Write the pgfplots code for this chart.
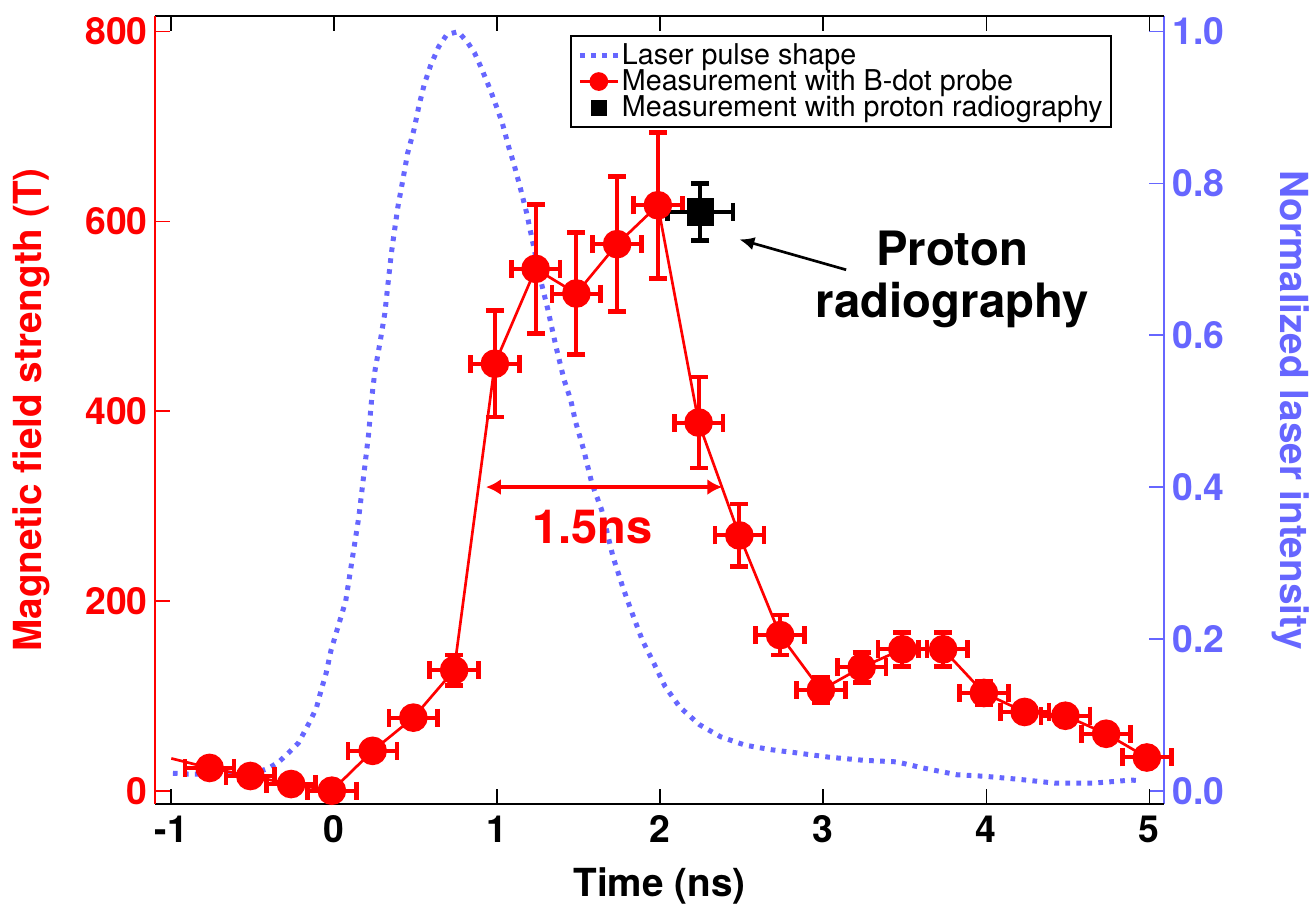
\documentclass[border=0pt]{standalone}
\usepackage{fontspec}
\setmainfont{TeX Gyre Heros}
\usepackage{pgfplots}
\usepackage{pgfplotstable}
\pgfplotsset{compat=1.18}
\usetikzlibrary{arrows.meta}
\definecolor{lblue}{rgb}{0.4,0.4,1}

\pgfplotstableread{
x y ex ey
-0.765 24 0.15 6
-0.515 15.5 0.15 6
-0.265 7 0.15 6
-0.015 0 0.15 6
0.235 42 0.15 8
0.485 77 0.15 8
0.735 127 0.15 16
0.985 450 0.15 56
1.235 550 0.15 68
1.485 524 0.15 64
1.735 576 0.15 71
1.985 617 0.15 77
2.235 388 0.15 48
2.485 269 0.15 33
2.735 164 0.15 21
2.985 106 0.15 13
3.235 130 0.15 16
3.485 149 0.15 18
3.735 149 0.15 18
3.985 103 0.15 12
4.235 83 0.15 8
4.485 79 0.15 8
4.735 60 0.15 8
4.985 35 0.15 6
}\bdot

\pgfplotstableread{
x y
-0.99 0.023
-0.90 0.022
-0.75 0.022
-0.57 0.023
-0.45 0.026
-0.40 0.030
-0.34 0.038
-0.28 0.050
-0.22 0.063
-0.15 0.091
-0.11 0.109
-0.08 0.133
-0.05 0.155
-0.02 0.185
0.07 0.25
0.15 0.36
0.21 0.469
0.23 0.518
0.25 0.554
0.28 0.590
0.31 0.629
0.33 0.669
0.35 0.708
0.37 0.739
0.39 0.769
0.42 0.804
0.45 0.840
0.49 0.872
0.52 0.903
0.55 0.929
0.59 0.955
0.64 0.980
0.69 0.996
0.76 1.000
0.82 0.985
0.86 0.972
0.90 0.953
0.95 0.927
0.98 0.910
1.03 0.880
1.07 0.848
1.10 0.827
1.14 0.795
1.18 0.761
1.21 0.730
1.27 0.669
1.31 0.634
1.36 0.585
1.41 0.541
1.45 0.515
1.48 0.486
1.53 0.449
1.58 0.405
1.64 0.370
1.71 0.308
1.77 0.268
1.82 0.238
1.89 0.198
1.96 0.168
2.03 0.137
2.12 0.110
2.24 0.087
2.37 0.071
2.52 0.060
2.68 0.054
2.83 0.050
3.04 0.044
3.25 0.040
3.45 0.038
3.61 0.030
3.82 0.021
3.99 0.019
4.20 0.015
4.42 0.010
4.66 0.010
4.89 0.014
4.95 0.013
}\laser

\begin{document}
\begin{tikzpicture}
\pgfplotsset{
  common/.style={scale only axis, width=302.7pt, height=236.4pt,
    xmin=-1.1, xmax=5.09, at={(0,0)}, anchor=south west, clip=false,
    major tick length=4.5pt, tick align=inside,
    /pgf/number format/assume math mode=true,
    ticklabel style={font=\fontsize{11.2}{13}\selectfont\bfseries},
    label style={font=\fontsize{11.6}{13}\selectfont\bfseries},
    every tick/.style={line width=0.5pt}}
}
% right axis (laser)
\begin{axis}[common, axis y line*=right, axis x line=none,
  ymin=-0.0175, ymax=1.0206, ytick={0,0.2,0.4,0.6,0.8,1},
  yticklabel style={/pgf/number format/fixed, /pgf/number format/fixed zerofill,
    /pgf/number format/precision=1, color=lblue, xshift=-1pt},
  y axis line style={lblue, line width=0.5pt}, ytick style={lblue},
  ylabel={Normalized laser intensity},
  ylabel style={color=lblue, rotate=180, at={(axis description cs:1.115,0.5)}, anchor=base}]
\addplot[lblue, line width=1.5pt, dash pattern=on 1.4pt off 1.9pt] table[x=x,y=y] \laser;
\end{axis}
% left axis (B field)
\begin{axis}[common, axis y line*=left, axis x line*=box,
  ymin=-14, ymax=816.5, ytick={0,200,400,600,800},
  xtick={-1,0,1,2,3,4,5}, xticklabels={-1,0,1,2,3,4,5},
  x axis line style={black, line width=0.5pt},
  y axis line style={red, line width=0.5pt}, ytick style={red}, xtick style={black},
  yticklabel style={red, xshift=1.3pt},
  ylabel={Magnetic field strength (T)},
  ylabel style={red, at={(axis description cs:-0.112,0.5)}, anchor=base},
  xlabel={Time (ns)},
  xlabel style={at={(axis description cs:0.5,0)}, anchor=base, yshift=-27.9pt},
  legend image code/.code={\draw[mark repeat=2,mark phase=2,#1] plot coordinates {(0cm,0cm) (0.2cm,0cm) (0.4cm,0cm)};},
  legend cell align=left,
  legend style={at={(0.9485,0.976)}, anchor=north east, draw=black, line width=0.6pt,
    font=\fontsize{8.6}{9}\selectfont, inner sep=2pt, row sep=0pt,
    nodes={inner sep=0.5pt, text height=6pt, text depth=0.8pt}}]
\addplot[red, line width=0.8pt, forget plot] coordinates {(-1,34) (-0.765,24)};
\addplot[red, line width=0.8pt, mark=*, mark size=3.9pt, mark options={solid, fill=red}, forget plot,
  error bars/.cd, x dir=both, x explicit, y dir=both, y explicit,
  error bar style={line width=1.2pt, red},
  error mark options={rotate=90, line width=1.4pt, mark size=2.7pt, red}]
  table[x=x, y=y, x error=ex, y error=ey] \bdot;
\addplot[black, only marks, mark=square*, mark size=3.9pt, forget plot,
  error bars/.cd, x dir=both, x explicit, y dir=both, y explicit,
  error bar style={line width=1.2pt, black},
  error mark options={rotate=90, line width=1.4pt, mark size=2.7pt, black}]
  coordinates {(2.245,610) +- (0.2,30)};
\addlegendimage{lblue, line width=1.5pt, dash pattern=on 1.4pt off 1.9pt}
\addlegendentry{Laser pulse shape}
\addlegendimage{red, line width=1pt, mark=*, mark size=2.3pt, mark options={solid, fill=red}}
\addlegendentry{Measurement with B-dot probe}
\addlegendimage{black, only marks, mark=square*, mark size=2.1pt}
\addlegendentry{Measurement with proton radiography}
\draw[red, line width=1.2pt, {Latex[length=4.5pt,width=4.8pt]}-{Latex[length=4.5pt,width=4.8pt]}]
  (axis cs:0.93,320) -- (axis cs:2.38,320);
\node[red, font=\fontsize{14.1}{16}\selectfont\bfseries, anchor=base] at (axis cs:1.583,261) {1.5ns};
\node[font=\fontsize{14.2}{16}\selectfont\bfseries, anchor=base] at (axis cs:3.79,554) {Proton};
\node[font=\fontsize{14.2}{16}\selectfont\bfseries, anchor=base] at (axis cs:3.79,499) {radiography};
\draw[-{Latex[length=4.5pt,width=4pt]}, line width=0.8pt] (axis cs:3.14,549) -- (axis cs:2.485,581);
\end{axis}
\pgfresetboundingbox
\path[use as bounding box] (-46.5pt,-30.6pt) rectangle (346.5pt,241.2pt);
\end{tikzpicture}
\end{document}
